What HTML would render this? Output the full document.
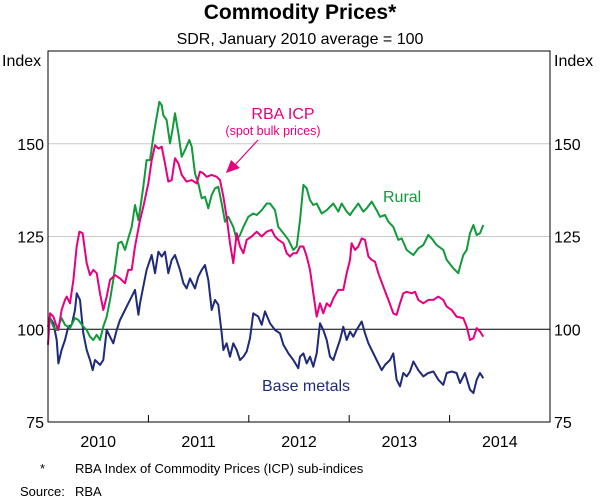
<!DOCTYPE html>
<html><head><meta charset="utf-8"><style>
body{margin:0;background:#fff;}
svg{display:block;font-family:"Liberation Sans",Arial,sans-serif;}
</style></head><body>
<svg id="chart" width="600" height="498" viewBox="0 0 600 498">
<text x="300" y="19" text-anchor="middle" font-size="21" font-weight="bold">Commodity Prices*</text>
<text x="300" y="44" text-anchor="middle" font-size="16">SDR, January 2010 average = 100</text>
<text x="2" y="66" font-size="16">Index</text>
<text x="554" y="66" font-size="16">Index</text>
<g id="grid"></g>
<g id="series"></g>
<rect x="48" y="51" width="502" height="371" fill="none" stroke="#000" stroke-width="1"/>
<g id="axes"></g>
<text x="283" y="119" text-anchor="middle" font-size="16" fill="#e6007e">RBA ICP</text>
<text x="273" y="135" text-anchor="middle" font-size="12.5" fill="#e6007e">(spot bulk prices)</text>
<line x1="258" y1="140" x2="234" y2="166" stroke="#e6007e" stroke-width="1.2"/>
<polygon points="226,173 231,160 240,168" fill="#e6007e"/>
<text x="383" y="202" font-size="16" fill="#109a3a">Rural</text>
<text x="262" y="391" font-size="16" fill="#1f2a78">Base metals</text>
<text x="40" y="473" font-size="13">*</text>
<text x="75" y="473" font-size="13">RBA Index of Commodity Prices (ICP) sub-indices</text>
<text x="20" y="496" font-size="13">Source:</text>
<text x="75" y="496" font-size="13">RBA</text>
</svg>
<script>
// months since Jan 2010, values (index)
const ruralMonths=[0,0.24,0.64,1.04,1.63,2.03,2.63,3.23,3.63,4.22,4.62,5.02,5.42,5.82,6.22,6.61,7.01,7.41,7.81,8.41,8.8,9.2,9.6,10,10.4,10.8,11.2,11.39,11.79,12.19,12.59,12.99,13.31,13.59,13.78,14.18,14.58,14.9,15.18,15.58,15.98,16.37,16.89,17.17,17.57,17.97,18.37,18.76,19.16,19.56,19.96,20.36,20.76,21.16,21.55,22.15,22.55,22.95,23.35,23.94,24.54,24.94,25.54,26.14,26.53,27.13,27.53,28.13,28.73,29.32,29.72,30.12,30.52,30.92,31.31,31.71,32.11,32.71,33.31,34.1,34.7,35.1,35.7,36.1,36.49,37.09,37.69,38.09,38.69,39.28,39.68,40.28,40.68,41.27,41.87,42.27,42.87,43.67,44.26,44.86,45.46,45.86,46.45,47.25,47.65,48.45,49.04,49.24,49.64,50.04,50.44,50.84,51.24,51.63,52.03];
const ruralValues=[103,103,100.7,99.8,103,101.2,100.3,103,102.5,100.7,99.8,98,97.1,98.5,97.1,100.7,103.4,107.9,113.3,123.2,123.6,121.4,124.5,127.6,133.5,129.4,135.3,138.4,145.6,145.6,151.9,157.3,161.3,160.4,157.7,156.4,150.1,154.1,158.2,152.8,146.5,148.3,151,149.2,142,139.3,135.3,135.7,132.6,136.2,138,138.4,133.9,129,130.3,127.6,124.1,125.4,127.6,130.3,131.2,130.8,132.1,133.9,133.9,132.1,127.6,125.9,124.1,121.4,122.3,129.4,138.9,138,134.8,133.5,133.9,131.2,132.1,133.9,131.7,133.9,131.7,130.8,132.1,133.9,131.7,132.6,134.4,132.1,130.3,130.8,129,127.6,124.1,124.5,121.4,120,121.8,122.7,125.4,124.5,122.7,121.4,118.7,116.4,115.1,116.9,120,121.4,125.9,128.1,125.4,125.9,128.1];
const icpMonths=[0,0.24,0.64,1.04,1.24,1.63,2.03,2.23,2.63,3.03,3.43,3.75,4.14,4.62,5.02,5.42,5.82,6.22,6.61,7.01,7.41,8.01,8.61,9.2,9.6,10,10.4,11,11.39,11.99,12.39,12.79,13.19,13.59,13.98,14.38,14.78,15.18,15.58,15.98,16.57,17.17,17.77,18.17,18.57,18.96,19.56,20.16,20.56,20.96,21.35,21.75,22.15,22.55,22.95,23.35,23.75,24.34,24.94,25.54,26.14,26.73,27.13,27.53,28.13,28.53,28.92,29.32,29.72,30.12,30.52,30.92,31.31,31.71,32.11,32.51,32.91,33.31,33.71,34.1,34.7,35.3,35.7,36.1,36.29,36.69,37.09,37.49,37.89,38.29,38.69,39.08,39.48,40.08,40.68,41.27,41.67,42.07,42.47,42.87,43.47,43.86,44.26,44.86,45.46,46.06,46.65,47.25,47.65,48.25,48.84,49.64,50.04,50.44,50.84,51.24,51.63,52.03];
const icpValues=[95.8,104.3,103.4,100.7,99.8,105.2,107.9,108.8,107,113.3,122.3,126.3,125.9,117.8,114.6,116,115.1,109.7,105.2,108.8,113.3,114.6,113.7,112.4,116,116,122.3,129.4,133,139.3,145.6,149.6,148.7,149.2,144.7,139.8,140.2,146.1,144.7,141.6,139.8,140.2,139.3,142.5,142,141.1,141.6,141.1,140.2,135.7,130.3,123.2,117.8,125.9,122.3,120.5,124.1,125,126.3,125,126.3,126.8,125,124.1,123.2,120.5,119.6,120.5,120.5,122.3,122.3,119.6,116,109.7,103.4,107,104.3,107,106.1,108.3,110.6,110.6,115.1,118.7,123.2,121.4,122.3,124.5,124.1,119.6,118.7,118.2,115.1,111.5,107.9,104.3,103.9,107,109.7,110.1,109.7,110.1,107.9,107,107.9,107.9,108.8,107.9,106.1,105.2,103.4,103,100.7,97.1,97.6,100.3,99.4,98];
const metalMonths=[0,0.24,0.64,1.04,1.24,1.63,2.03,2.43,2.83,3.23,3.43,3.82,4.22,4.62,5.02,5.34,5.62,6.22,6.61,7.01,7.41,7.81,8.21,8.61,9.2,9.6,10,10.4,10.8,11,11.39,11.79,12.39,12.79,13.19,13.59,13.98,14.38,14.78,15.18,15.78,16.18,16.57,16.97,17.57,17.97,18.37,18.76,19.16,19.56,19.96,20.36,20.76,20.96,21.35,21.75,22.15,22.55,22.95,23.35,23.75,24.14,24.54,25.14,25.54,25.94,26.53,27.13,27.73,28.13,28.73,29.32,29.92,30.12,30.52,30.92,31.31,31.71,32.11,32.51,32.91,33.31,33.71,34.1,34.5,34.9,35.3,35.7,36.1,36.49,36.89,37.49,37.89,38.29,38.69,39.28,39.88,40.28,40.88,41.27,41.67,42.07,42.47,42.87,43.27,43.67,44.26,44.86,45.46,46.06,46.65,47.25,47.65,48.25,48.84,49.24,49.84,50.44,50.84,51.24,51.63,52.03];
const metalValues=[100.7,103,101.6,97.1,90.8,94.4,97.1,100.7,101.2,105.2,109.7,107.9,98.9,94.4,91.7,89,91.7,90.4,91.7,99.8,98,96.2,99.8,102.5,105.2,107,108.8,110.6,103.9,107,111.5,116,120,115.1,120.9,119.6,120.9,115.1,118.7,120,116,112.4,111,113.7,111,114.2,116,117.3,113.3,105.2,107.9,106.6,98.9,94.4,96.2,92.6,96.2,94.4,91.7,92.6,94,97.6,104.3,103.4,101.2,104.8,101.6,99.8,98.9,95.8,93.5,91.7,89.5,92.6,93.5,90.8,92.6,89.9,93.5,101.6,99.8,97.1,92.6,91.7,94.4,97.1,100.7,97.1,99.4,98,99.8,102.1,98.9,96.2,94.4,91.7,89,90.4,91.7,93.5,86.4,84.6,88.2,87.3,88.6,91.3,89,87.3,88.2,88.6,86.4,85,88.2,88.6,88.2,85.5,88.2,83.7,82.8,86.4,88.2,86.8];
const yTicks=[75,100,125,150];
const yearLabels=["2010","2011","2012","2013","2014"];

const NS="http://www.w3.org/2000/svg";
const L=48,R=550,T=51,B=422,yMin=75,yMax=175,mMax=60;
const xs=m=>L+m/mMax*(R-L);
const ys=v=>B-(v-yMin)/(yMax-yMin)*(B-T);
function mk(tag,attrs,parent){const e=document.createElementNS(NS,tag);for(const k in attrs)e.setAttribute(k,attrs[k]);parent.appendChild(e);return e;}
const grid=document.getElementById('grid'),axes=document.getElementById('axes'),ser=document.getElementById('series');
yTicks.forEach(v=>{
  if(v>yMin){
    const ln=mk('line',{x1:L,x2:R,y1:ys(v),y2:ys(v),stroke:v===100?'#000':'#c8c8c8','stroke-width':1},grid);
    
    
  }
  const a=mk('text',{x:44,y:ys(v)+6,'text-anchor':'end','font-size':16},axes);a.textContent=v;
  
  
  const b=mk('text',{x:554,y:ys(v)+6,'font-size':16},axes);b.textContent=v;
  
  
});
yearLabels.forEach((lab,i)=>{
  const xm=xs(i*12+6);
  const t=mk('text',{x:xm,y:447,'text-anchor':'middle','font-size':16},axes);t.textContent=lab;
  
  
  if(i>0){const tk=mk('line',{x1:xs(i*12),x2:xs(i*12),y1:B,y2:B-7,stroke:'#000'},axes);
  
  }
});
function line(ms,vs,col,name){
  const d=ms.map((m,i)=>(i?'L':'M')+xs(m).toFixed(1)+','+ys(vs[i]).toFixed(1)).join('');
  const p=mk('path',{d:d,fill:'none',stroke:col,'stroke-width':2,'stroke-linejoin':'round'},ser);
  
  
}
line(metalMonths,metalValues,'#1f2a78','base-metals-line');
line(ruralMonths,ruralValues,'#109a3a','rural-line');
line(icpMonths,icpValues,'#e6007e','rba-icp-line');
</script>
</body></html>
